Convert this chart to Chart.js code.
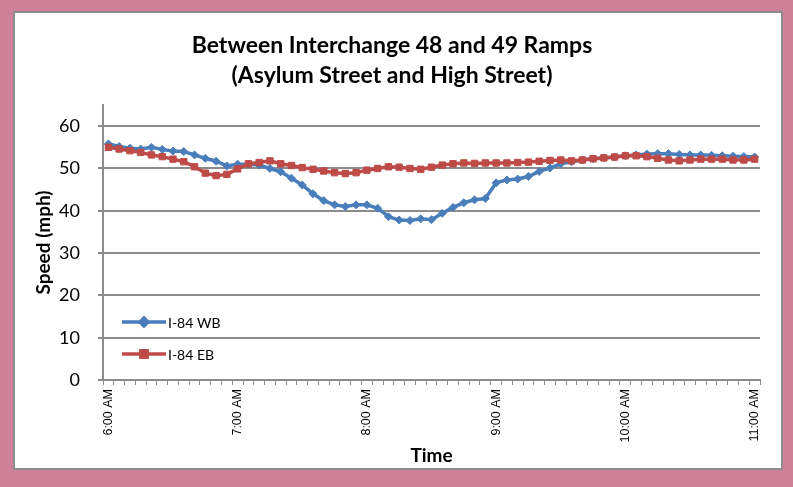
<!DOCTYPE html>
<html>
<head>
<meta charset="utf-8">
<script src="https://cdn.jsdelivr.net/npm/chart.js@4.4.0/dist/chart.umd.min.js"></script>
<style>
html, body { margin: 0; padding: 0; }
body { width: 793px; height: 487px; background: #ce8099; position: relative; overflow: hidden; }
#box { position: absolute; left: 13px; top: 11px; width: 766px; height: 455px; background: #fff; border: 2px solid #8d8d8d; }
#chart { position: absolute; left: 0; top: 0; }
</style>
</head>
<body>
<div id="box"></div>
<canvas id="chart" width="793" height="487"></canvas>
<script>
// time of day, 5 minute steps
var times = [
    '6:00 AM','6:05 AM','6:10 AM','6:15 AM','6:20 AM','6:25 AM','6:30 AM','6:35 AM','6:40 AM','6:45 AM','6:50 AM','6:55 AM',
    '7:00 AM','7:05 AM','7:10 AM','7:15 AM','7:20 AM','7:25 AM','7:30 AM','7:35 AM','7:40 AM','7:45 AM','7:50 AM','7:55 AM',
    '8:00 AM','8:05 AM','8:10 AM','8:15 AM','8:20 AM','8:25 AM','8:30 AM','8:35 AM','8:40 AM','8:45 AM','8:50 AM','8:55 AM',
    '9:00 AM','9:05 AM','9:10 AM','9:15 AM','9:20 AM','9:25 AM','9:30 AM','9:35 AM','9:40 AM','9:45 AM','9:50 AM','9:55 AM',
    '10:00 AM','10:05 AM','10:10 AM','10:15 AM','10:20 AM','10:25 AM','10:30 AM','10:35 AM','10:40 AM','10:45 AM','10:50 AM','10:55 AM',
    '11:00 AM'
];
var hourLabels = ['6:00 AM','7:00 AM','8:00 AM','9:00 AM','10:00 AM','11:00 AM'];
var speedTicks = [0, 10, 20, 30, 40, 50, 60];

var wbSpeed = [
    55.8, 55.2, 54.8, 54.6, 55.0, 54.5, 54.1, 54.0, 53.2, 52.4, 51.7, 50.6,
    51.0, 51.0, 50.8, 50.0, 49.2, 47.7, 46.1, 44.0, 42.4, 41.4, 41.0, 41.4,
    41.4, 40.6, 38.6, 37.8, 37.7, 38.1, 37.9, 39.4, 40.8, 41.9, 42.6, 42.9,
    46.6, 47.3, 47.5, 48.1, 49.3, 50.1, 51.1, 51.6, 52.0, 52.3, 52.5, 52.7,
    53.0, 53.2, 53.4, 53.5, 53.5, 53.3, 53.2, 53.2, 53.1, 53.0, 52.9, 52.8,
    52.7
];
var ebSpeed = [
    55.0, 54.6, 54.2, 53.8, 53.2, 52.8, 52.2, 51.6, 50.4, 48.9, 48.3, 48.6,
    49.9, 51.1, 51.4, 51.8, 51.1, 50.7, 50.2, 49.8, 49.4, 49.0, 48.8, 49.0,
    49.6, 50.0, 50.4, 50.3, 50.0, 49.8, 50.3, 50.8, 51.1, 51.3, 51.2, 51.3,
    51.3, 51.3, 51.4, 51.5, 51.7, 51.9, 52.0, 51.8, 52.0, 52.3, 52.5, 52.7,
    53.0, 53.0, 52.8, 52.4, 52.0, 51.8, 52.0, 52.2, 52.2, 52.2, 52.0, 52.0,
    52.2
];

var gridGray = '#8c8c8c';
var fontName = 'Lato, "Open Sans", sans-serif';

// legend drawn inside the plot, lower left
var insideLegend = {
    id: 'insideLegend',
    afterDraw: function(chart){
        var ctx = chart.ctx;
        var rows = [322, 354];
        ctx.save();
        chart.data.datasets.forEach(function(ds, i){
            var y = rows[i];
            ctx.strokeStyle = ds.borderColor;
            ctx.fillStyle = ds.backgroundColor;
            ctx.lineWidth = ds.borderWidth;
            ctx.beginPath();
            ctx.moveTo(122, y);
            ctx.lineTo(166, y);
            ctx.stroke();
            Chart.helpers.drawPoint(ctx, {pointStyle: ds.pointStyle, radius: ds.pointRadius, rotation: 0, borderWidth: 1}, 144, y);
            ctx.fillStyle = '#000';
            ctx.font = '14px ' + fontName;
            ctx.textBaseline = 'middle';
            ctx.textAlign = 'left';
            ctx.fillText(ds.label, 168, y + 1);
        });
        ctx.restore();
    }
};

var ctx = document.getElementById('chart').getContext('2d');
var myChart = new Chart(ctx, {
    type: 'line',
    data: {
        labels: times,
        datasets: [{
            label: 'I-84 WB',
            data: wbSpeed,
            borderColor: '#4a7ebb',
            backgroundColor: '#4a7ebb',
            borderWidth: 3.5,
            pointStyle: 'rectRot',
            pointRadius: 4,
            pointBorderWidth: 1,
            order: 2
        }, {
            label: 'I-84 EB',
            data: ebSpeed,
            borderColor: '#be4b48',
            backgroundColor: '#be4b48',
            borderWidth: 3.5,
            pointStyle: 'rect',
            pointRadius: 4.5,
            pointBorderWidth: 1,
            order: 1
        }]
    },
    options: {
        responsive: false,
        animation: false,
        layout: { padding: { left: 24, right: 33, top: 31, bottom: 20 } },
        plugins: {
            legend: { display: false },
            tooltip: { enabled: false },
            title: {
                display: true,
                text: ['Between Interchange 48 and 49 Ramps', '(Asylum Street and High Street)'],
                color: '#000',
                font: { family: fontName, size: 23, weight: 'bold', lineHeight: 1.3043 },
                padding: { top: 0, bottom: 14 }
            }
        },
        scales: {
            x: {
                offset: true,
                afterFit: function(scale){ scale.height = 87; },
                grid: { drawOnChartArea: false, offset: true, tickLength: 5, color: gridGray, lineWidth: 1 },
                border: { color: gridGray, width: 2 },
                ticks: {
                    autoSkip: false,
                    minRotation: 90,
                    maxRotation: 90,
                    padding: 4,
                    color: '#000',
                    font: { family: '"Liberation Sans", Arial, sans-serif', size: 12.5 },
                    callback: function(value){
                        var lbl = this.getLabelForValue(value);
                        return hourLabels.indexOf(lbl) >= 0 ? lbl : '';
                    }
                },
                title: {
                    display: true,
                    text: 'Time',
                    color: '#000',
                    font: { family: fontName, size: 19, weight: 'bold', lineHeight: 1.2 },
                    padding: { top: 0, bottom: 0 }
                }
            },
            y: {
                min: 0,
                max: 65,
                afterFit: function(scale){ scale.width = 79; },
                afterBuildTicks: function(scale){
                    scale.ticks = speedTicks.map(function(v){ return { value: v }; });
                },
                grid: { color: gridGray, lineWidth: 2, tickLength: 5 },
                border: { color: gridGray, width: 2 },
                ticks: {
                    padding: 18,
                    color: '#000',
                    font: { family: fontName, size: 18 }
                },
                title: {
                    display: true,
                    text: 'Speed (mph)',
                    color: '#000',
                    font: { family: fontName, size: 19, weight: 'bold', lineHeight: 1.2 },
                    padding: { top: 8, bottom: 0 }
                }
            }
        }
    },
    plugins: [insideLegend]
});
</script>
</body>
</html>
